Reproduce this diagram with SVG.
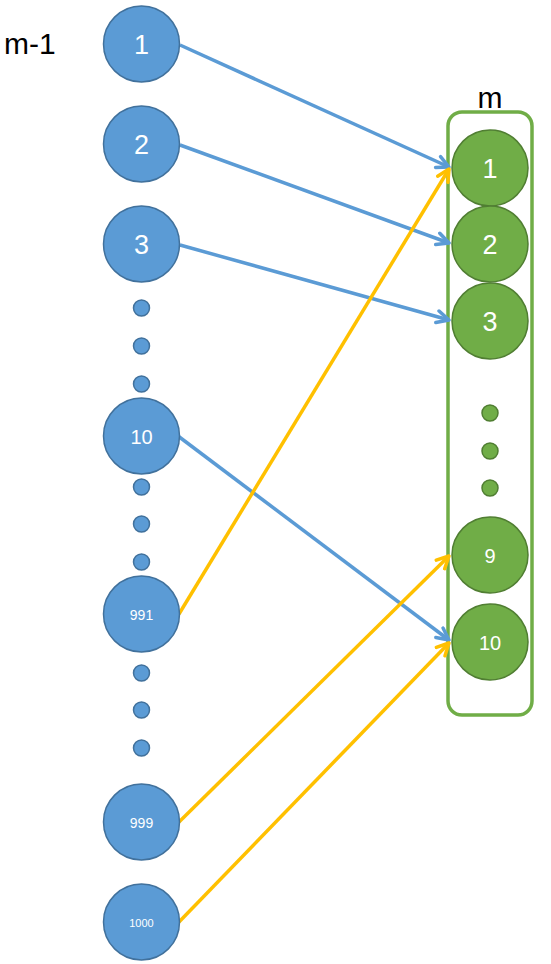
<svg xmlns="http://www.w3.org/2000/svg" width="551" height="964" viewBox="0 0 551 964">
<defs>
<style>
.b{fill:#5b9bd5;stroke:#41719c;stroke-width:1.5}
.g{fill:#70ad47;stroke:#507e32;stroke-width:1.5}
.t{fill:#fff;font-family:"Liberation Sans",Arial,sans-serif;text-anchor:middle;dominant-baseline:central}
.lb{fill:none;stroke:#5b9bd5;stroke-width:3.5}
.ly{fill:none;stroke:#ffc000;stroke-width:3.5}
</style>
<marker id="ab" markerWidth="16" markerHeight="16" viewBox="0 0 16 16" refX="14" refY="8" orient="auto" markerUnits="userSpaceOnUse"><path d="M2,2 L14,8 L2,14" fill="none" stroke="#5b9bd5" stroke-width="3.5" stroke-linecap="round" stroke-linejoin="round"/></marker>
<marker id="ay" markerWidth="16" markerHeight="16" viewBox="0 0 16 16" refX="14" refY="8" orient="auto" markerUnits="userSpaceOnUse"><path d="M2,2 L14,8 L2,14" fill="none" stroke="#ffc000" stroke-width="3.5" stroke-linecap="round" stroke-linejoin="round"/></marker>
</defs>
<rect width="551" height="964" fill="#fff"/>
<text x="4" y="54" font-family="Liberation Sans,Arial,sans-serif" font-size="30" fill="#000">m-1</text>
<text x="490" y="108" font-family="Liberation Sans,Arial,sans-serif" font-size="30" fill="#000" text-anchor="middle">m</text>
<g id="box"><rect x="448" y="112" width="84" height="603" rx="14" fill="none" stroke="#70ad47" stroke-width="3.5"/></g>
<g id="connectors">
<line class="lb" x1="180" y1="45" x2="449" y2="167" marker-end="url(#ab)"/>
<line class="lb" x1="180" y1="145" x2="449" y2="243" marker-end="url(#ab)"/>
<line class="lb" x1="180" y1="245" x2="449" y2="320" marker-end="url(#ab)"/>
<line class="lb" x1="178" y1="436" x2="449" y2="640" marker-end="url(#ab)"/>
<line class="ly" x1="179" y1="614" x2="449" y2="169" marker-end="url(#ay)"/>
<line class="ly" x1="179" y1="822" x2="449" y2="556" marker-end="url(#ay)"/>
<line class="ly" x1="179" y1="922" x2="449" y2="643" marker-end="url(#ay)"/>
</g>
<g id="n1"><circle class="b" cx="141.5" cy="44" r="38"/><text class="t" x="141.5" y="45" font-size="27">1</text></g>
<g id="n2"><circle class="b" cx="141.5" cy="144" r="38"/><text class="t" x="141.5" y="145" font-size="27">2</text></g>
<g id="n3"><circle class="b" cx="141.5" cy="244" r="38"/><text class="t" x="141.5" y="245" font-size="27">3</text></g>
<g id="d1"><circle class="b" cx="141.5" cy="308" r="8"/><circle class="b" cx="141.5" cy="346" r="8"/><circle class="b" cx="141.5" cy="384" r="8"/></g>
<g id="n10"><circle class="b" cx="141.5" cy="436" r="38"/><text class="t" x="141.5" y="437" font-size="20">10</text></g>
<g id="d2"><circle class="b" cx="141.5" cy="487" r="8"/><circle class="b" cx="141.5" cy="524" r="8"/><circle class="b" cx="141.5" cy="562" r="8"/></g>
<g id="n991"><circle class="b" cx="141.5" cy="614" r="38"/><text class="t" x="141.5" y="615" font-size="14">991</text></g>
<g id="d3"><circle class="b" cx="141.5" cy="673" r="8"/><circle class="b" cx="141.5" cy="710" r="8"/><circle class="b" cx="141.5" cy="748" r="8"/></g>
<g id="n999"><circle class="b" cx="141.5" cy="822" r="38"/><text class="t" x="141.5" y="823" font-size="14">999</text></g>
<g id="n1000"><circle class="b" cx="141.5" cy="922" r="38"/><text class="t" x="141.5" y="923" font-size="11">1000</text></g>
<g id="m1"><circle class="g" cx="490" cy="168" r="38"/><text class="t" x="490" y="169" font-size="27">1</text></g>
<g id="m2"><circle class="g" cx="490" cy="244" r="38"/><text class="t" x="490" y="245" font-size="27">2</text></g>
<g id="m3"><circle class="g" cx="490" cy="321" r="38"/><text class="t" x="490" y="322" font-size="27">3</text></g>
<g id="md"><circle class="g" cx="490" cy="413" r="8"/><circle class="g" cx="490" cy="451" r="8"/><circle class="g" cx="490" cy="488" r="8"/></g>
<g id="m9"><circle class="g" cx="490" cy="555" r="38"/><text class="t" x="490" y="556" font-size="20">9</text></g>
<g id="m10"><circle class="g" cx="490" cy="642" r="38"/><text class="t" x="490" y="643" font-size="20">10</text></g>
</svg>
